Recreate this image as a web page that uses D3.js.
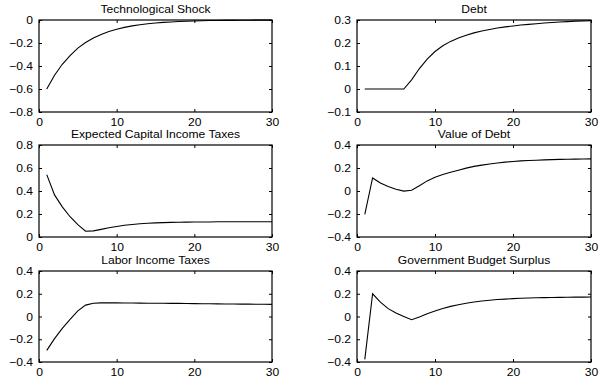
<!DOCTYPE html>
<html>
<head>
<meta charset="utf-8">
<script src="https://cdn.jsdelivr.net/npm/d3@7"></script>
<style>
  body { margin: 0; background: #fff; }
  svg { display: block; }
  text { font-family: "Liberation Sans", Arial, Helvetica, sans-serif; fill: #000; }
</style>
</head>
<body>
<svg id="chart" width="600" height="385"></svg>
<script>
// periods after the shock
const periods = [1,2,3,4,5,6,7,8,9,10,11,12,13,14,15,16,17,18,19,20,21,22,23,24,25,26,27,28,29,30];

const techShock = [-0.600,-0.480,-0.385,-0.310,-0.245,-0.196,-0.157,-0.126,-0.100,-0.080,-0.064,-0.051,-0.041,-0.033,-0.026,
  -0.021,-0.017,-0.013,-0.011,-0.009,-0.007,-0.005,-0.004,-0.003,-0.003,-0.002,-0.002,-0.001,-0.001,-0.001];
const debt = [0,0,0,0,0,0,0.040,0.089,0.130,0.163,0.188,0.207,0.222,0.234,0.244,
  0.252,0.259,0.265,0.270,0.274,0.278,0.281,0.284,0.287,0.289,0.291,0.293,0.295,0.296,0.297];
const capitalTaxes = [0.542,0.366,0.262,0.176,0.108,0.050,0.053,0.066,0.080,0.092,0.102,0.109,0.115,0.119,0.123,
  0.125,0.127,0.128,0.129,0.130,0.131,0.131,0.132,0.132,0.132,0.132,0.132,0.132,0.132,0.132];
const valueOfDebt = [-0.204,0.113,0.069,0.040,0.016,-0.001,0.007,0.045,0.088,0.119,0.143,0.163,0.181,0.199,0.214,
  0.225,0.235,0.244,0.251,0.257,0.262,0.265,0.268,0.271,0.273,0.275,0.276,0.277,0.278,0.279];
const laborTaxes = [-0.298,-0.195,-0.105,-0.025,0.050,0.100,0.117,0.120,0.120,0.120,0.119,0.119,0.118,0.117,0.117,
  0.116,0.115,0.115,0.114,0.113,0.112,0.112,0.111,0.110,0.110,0.109,0.109,0.108,0.108,0.107];
const budgetSurplus = [-0.377,0.200,0.127,0.069,0.031,0.001,-0.028,-0.004,0.025,0.048,0.070,0.089,0.104,0.117,0.127,
  0.136,0.143,0.149,0.153,0.157,0.160,0.163,0.165,0.166,0.167,0.168,0.169,0.170,0.170,0.171];

const xTicks = [0, 10, 20, 30];

const panels = [
  { title: "Technological Shock", values: techShock, domain: [-0.8, 0], ticks: [-0.8,-0.6,-0.4,-0.2,0] },
  { title: "Debt", values: debt, domain: [-0.1, 0.3], ticks: [-0.1,0,0.1,0.2,0.3] },
  { title: "Expected Capital Income Taxes", values: capitalTaxes, domain: [0, 0.8], ticks: [0,0.2,0.4,0.6,0.8] },
  { title: "Value of Debt", values: valueOfDebt, domain: [-0.4, 0.4], ticks: [-0.4,-0.2,0,0.2,0.4] },
  { title: "Labor Income Taxes", values: laborTaxes, domain: [-0.4, 0.4], ticks: [-0.4,-0.2,0,0.2,0.4] },
  { title: "Government Budget Surplus", values: budgetSurplus, domain: [-0.4, 0.4], ticks: [-0.4,-0.2,0,0.2,0.4] }
];

const cols = [[39, 272], [357, 591]];
const rows = [[20, 112], [145, 237], [271, 362]];
const fontSize = 11;
const stretch = 1.1;   // the original figure text is a bit wider than tall
const tickLen = 3;

const svg = d3.select("#chart");
const fmt = d3.format("");

panels.forEach((p, i) => {
  const [x0, x1] = cols[i % 2];
  const [y0, y1] = rows[Math.floor(i / 2)];

  const x = d3.scaleLinear().domain([0, 30]).range([x0, x1]);
  const y = d3.scaleLinear().domain(p.domain).range([y1, y0]);

  const g = svg.append("g");

  // MATLAB-style ticks pointing inward on all four sides
  const axes = [
    { ax: d3.axisBottom(x).tickValues(xTicks).tickFormat(fmt), t: `translate(0,${y1})`, labels: true },
    { ax: d3.axisTop(x).tickValues(xTicks), t: `translate(0,${y0})`, labels: false },
    { ax: d3.axisLeft(y).tickValues(p.ticks).tickFormat(fmt), t: `translate(${x0},0)`, labels: true },
    { ax: d3.axisRight(y).tickValues(p.ticks), t: `translate(${x1},0)`, labels: false }
  ];
  axes.forEach(a => {
    const ag = g.append("g").attr("transform", a.t)
      .call(a.ax.tickSizeInner(-tickLen).tickSizeOuter(0).tickPadding(tickLen + 3));
    ag.select(".domain").remove();
    ag.selectAll("line").attr("stroke", "#000").attr("stroke-width", 1);
    if (!a.labels) { ag.selectAll("text").remove(); return; }
    ag.selectAll("text")
      .style("font-size", fontSize + "px")
      .style("font-family", "'Liberation Sans', Arial, sans-serif")
      .attr("fill", "#000")
      .each(function() {
        const t = d3.select(this);
        const tx = +t.attr("x") || 0;
        const ty = +t.attr("y") || 0;
        t.attr("x", 0).attr("y", 0)
          .attr("transform", `translate(${tx},${ty}) scale(${stretch},1)`);
      });
  });

  g.append("rect")
    .attr("x", x0).attr("y", y0)
    .attr("width", x1 - x0).attr("height", y1 - y0)
    .attr("fill", "none").attr("stroke", "#000").attr("stroke-width", 1.2);

  const line = d3.line()
    .x((d, k) => x(periods[k]))
    .y(d => y(d));

  g.append("path")
    .datum(p.values)
    .attr("d", line)
    .attr("fill", "none")
    .attr("stroke", "#000")
    .attr("stroke-width", 1.1);

  g.append("text")
    .attr("transform", `translate(${(x0 + x1) / 2},${y0 - 7}) scale(${stretch},1)`)
    .attr("text-anchor", "middle")
    .style("font-size", fontSize + "px")
    .text(p.title);
});
</script>
</body>
</html>
